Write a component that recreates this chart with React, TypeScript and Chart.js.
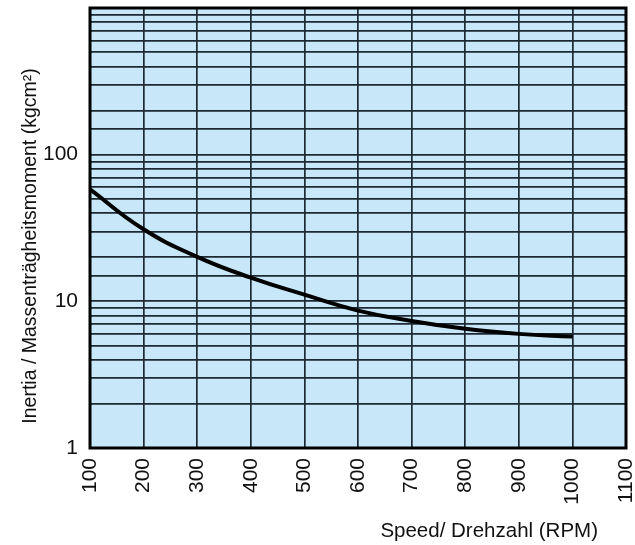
import React, { useEffect, useRef } from "react";
import { Chart, registerables } from "chart.js";

Chart.register(...registerables);

const speeds = [100, 200, 300, 400, 500, 600, 700, 800, 900, 1000];
const inertia = [58, 31, 20.1, 14.5, 11.1, 8.65, 7.35, 6.5, 6.0, 5.75];
const yLabels = [1, 10, 100];
const yTitle = "Inertia / Massenträgheitsmoment (kgcm²)";
const xTitle = "Speed/ Drehzahl (RPM)";

const FONT = "'Liberation Sans', Arial, Helvetica, sans-serif";

const framePlugin = {
  id: "frame",
  beforeDraw(chart: any) {
    const { ctx, chartArea: a } = chart;
    ctx.save();
    ctx.fillStyle = "#c8e8f9";
    ctx.fillRect(a.left, a.top, a.right - a.left, a.bottom - a.top);
    ctx.restore();
  },
  afterDraw(chart: any) {
    const { ctx, chartArea: a } = chart;
    ctx.save();
    ctx.strokeStyle = "#000";
    ctx.lineWidth = 3;
    ctx.strokeRect(a.left, a.top, a.right - a.left, a.bottom - a.top);
    ctx.fillStyle = "#111";
    ctx.font = `19.5px ${FONT}`;
    ctx.textAlign = "center";
    ctx.textBaseline = "middle";
    ctx.save();
    ctx.translate(31, 246);
    ctx.rotate(-Math.PI / 2);
    ctx.fillText(yTitle, 0, 0);
    ctx.restore();
    ctx.font = `20.5px ${FONT}`;
    ctx.textAlign = "right";
    ctx.textBaseline = "alphabetic";
    ctx.fillText(xTitle, 598, 537);
    ctx.restore();
  },
};

export default function App() {
  const ref = useRef<HTMLCanvasElement>(null);
  useEffect(() => {
    if (!ref.current) return;
    const chart = new Chart(ref.current, {
      type: "line",
      data: {
        datasets: [
          {
            data: speeds.map((s, i) => ({ x: s, y: inertia[i] })),
            borderColor: "#000",
            borderWidth: 4,
            pointRadius: 0,
            tension: 0.45,
            fill: false,
          },
        ],
      },
      options: {
        animation: false,
        responsive: false,
        maintainAspectRatio: false,
        layout: { padding: { top: 8, right: 9, left: 0, bottom: 0 } },
        plugins: { legend: { display: false }, tooltip: { enabled: false } },
        scales: {
          x: {
            type: "linear",
            min: 100,
            max: 1100,
            ticks: {
              stepSize: 100,
              minRotation: 90,
              maxRotation: 90,
              padding: 10,
              autoSkip: false,
              color: "#111",
              font: { family: FONT, size: 21 },
              callback: (v: any) => String(v),
            },
            grid: { color: "#1e2a33", lineWidth: 1.7, drawTicks: false },
            border: { display: false },
            afterFit: (s: any) => {
              s.height = 97;
              s.paddingLeft = 0;
              s.paddingRight = 0;
            },
          },
          y: {
            type: "logarithmic",
            min: 1,
            max: 1000,
            ticks: {
              autoSkip: false,
              padding: 12,
              color: "#111",
              font: { family: FONT, size: 21 },
              callback: (v: any) => (yLabels.includes(Number(v)) ? String(v) : ""),
            },
            grid: { color: "#1e2a33", lineWidth: 1.7, drawTicks: false },
            border: { display: false },
            afterFit: (s: any) => {
              s.width = 90;
              s.paddingTop = 0;
              s.paddingBottom = 0;
            },
          },
        },
      },
      plugins: [framePlugin],
    } as any);
    return () => chart.destroy();
  }, []);
  return (
    <div style={{ position: "fixed", left: 0, top: 0, width: 635, height: 545, background: "#fff" }}>
      <canvas ref={ref} width={635} height={545} style={{ width: 635, height: 545 }} />
    </div>
  );
}
